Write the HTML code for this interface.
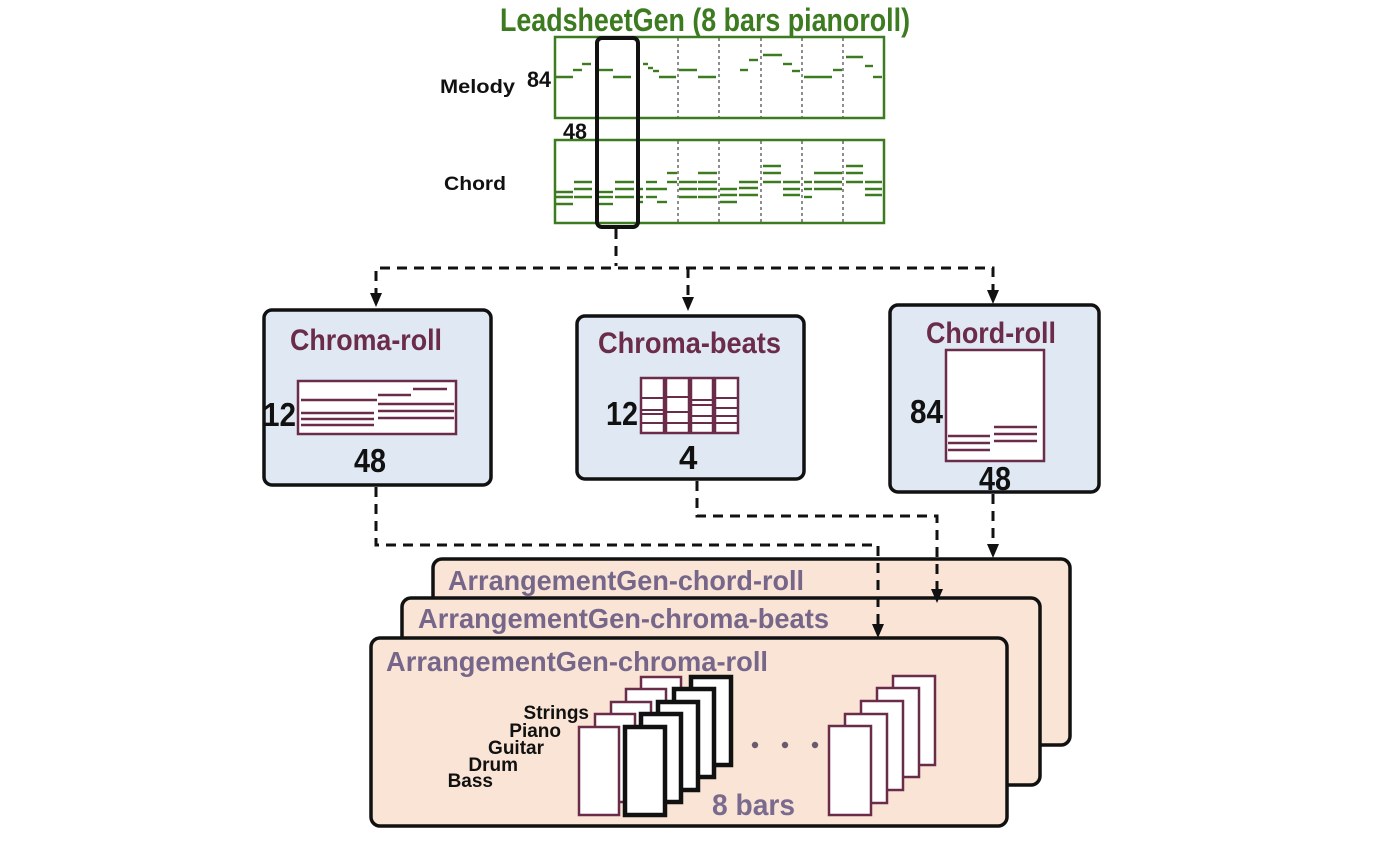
<!DOCTYPE html>
<html><head><meta charset="utf-8"><style>
html,body{margin:0;padding:0;background:#fff;}
svg{display:block;}
text{font-family:"Liberation Sans",sans-serif;font-weight:bold;}
</style></head><body>
<svg width="1400" height="843" viewBox="0 0 1400 843" xmlns="http://www.w3.org/2000/svg">
<!-- Title -->
<text x="500" y="31" font-size="32" fill="#3d7b20" textLength="410" lengthAdjust="spacingAndGlyphs">LeadsheetGen (8 bars pianoroll)</text>
<rect x="555" y="37" width="329" height="81" fill="#fff" stroke="#3d7b20" stroke-width="2.5"/>
<rect x="555" y="140" width="329" height="83" fill="#fff" stroke="#3d7b20" stroke-width="2.5"/>
<g stroke="#444" stroke-width="1.2" stroke-dasharray="3,3">
<line x1="678" y1="38" x2="678" y2="117"/><line x1="719" y1="38" x2="719" y2="117"/><line x1="761" y1="38" x2="761" y2="117"/><line x1="802" y1="38" x2="802" y2="117"/><line x1="843" y1="38" x2="843" y2="117"/>
<line x1="678" y1="141" x2="678" y2="222"/><line x1="719" y1="141" x2="719" y2="222"/><line x1="761" y1="141" x2="761" y2="222"/><line x1="802" y1="141" x2="802" y2="222"/><line x1="843" y1="141" x2="843" y2="222"/>
</g>
<g stroke="#3d7b20" stroke-width="2.4">
<line x1="556" y1="77" x2="573" y2="77"/><line x1="573" y1="70" x2="582" y2="70"/><line x1="582" y1="64" x2="591" y2="64"/>
<line x1="598" y1="70" x2="613" y2="70"/><line x1="613" y1="77" x2="631" y2="77"/>
<line x1="643" y1="64" x2="648" y2="64"/><line x1="648" y1="68" x2="653" y2="68"/><line x1="653" y1="71" x2="659" y2="71"/><line x1="659" y1="77" x2="676" y2="77"/>
<line x1="679" y1="70" x2="697" y2="70"/><line x1="698" y1="77" x2="716" y2="77"/>
<line x1="740" y1="70" x2="748" y2="70"/><line x1="749" y1="60" x2="758" y2="60"/><line x1="763" y1="55" x2="782" y2="55"/><line x1="783" y1="64" x2="792" y2="64"/><line x1="792" y1="71" x2="800" y2="71"/><line x1="804" y1="77" x2="832" y2="77"/><line x1="833" y1="70" x2="842" y2="70"/><line x1="846" y1="57" x2="863" y2="57"/><line x1="865" y1="66" x2="873" y2="66"/><line x1="873" y1="77" x2="882" y2="77"/>
<line x1="556" y1="192" x2="573" y2="192"/><line x1="556" y1="197" x2="573" y2="197"/><line x1="556" y1="204" x2="573" y2="204"/>
<line x1="574" y1="182" x2="592" y2="182"/><line x1="574" y1="189" x2="592" y2="189"/><line x1="574" y1="197" x2="592" y2="197"/>
<line x1="598" y1="192" x2="613" y2="192"/><line x1="598" y1="197" x2="613" y2="197"/><line x1="598" y1="204" x2="613" y2="204"/>
<line x1="615" y1="182" x2="634" y2="182"/><line x1="615" y1="189" x2="634" y2="189"/><line x1="615" y1="197" x2="634" y2="197"/>
<line x1="637" y1="189" x2="643" y2="189"/><line x1="637" y1="197" x2="643" y2="197"/><line x1="637" y1="202" x2="643" y2="202"/>
<line x1="646" y1="182" x2="657" y2="182"/><line x1="646" y1="189" x2="667" y2="189"/><line x1="646" y1="197" x2="657" y2="197"/><line x1="657" y1="202" x2="667" y2="202"/>
<line x1="667" y1="173" x2="677" y2="173"/><line x1="667" y1="182" x2="677" y2="182"/>
<line x1="679" y1="182" x2="697" y2="182"/><line x1="679" y1="189" x2="697" y2="189"/><line x1="679" y1="197" x2="697" y2="197"/>
<line x1="698" y1="173" x2="717" y2="173"/><line x1="698" y1="182" x2="717" y2="182"/><line x1="698" y1="189" x2="717" y2="189"/><line x1="698" y1="197" x2="717" y2="197"/>
<line x1="720" y1="189" x2="737" y2="189"/><line x1="720" y1="195" x2="737" y2="195"/><line x1="720" y1="202" x2="737" y2="202"/>
<line x1="739" y1="182" x2="758" y2="182"/><line x1="739" y1="188" x2="758" y2="188"/><line x1="739" y1="195" x2="758" y2="195"/>
<line x1="763" y1="166" x2="781" y2="166"/><line x1="763" y1="173" x2="781" y2="173"/><line x1="763" y1="182" x2="781" y2="182"/>
<line x1="783" y1="182" x2="800" y2="182"/><line x1="783" y1="189" x2="800" y2="189"/><line x1="783" y1="195" x2="800" y2="195"/>
<line x1="804" y1="182" x2="812" y2="182"/><line x1="804" y1="189" x2="812" y2="189"/><line x1="804" y1="197" x2="812" y2="197"/>
<line x1="814" y1="173" x2="842" y2="173"/><line x1="814" y1="182" x2="842" y2="182"/><line x1="814" y1="189" x2="842" y2="189"/>
<line x1="846" y1="166" x2="863" y2="166"/><line x1="846" y1="173" x2="863" y2="173"/><line x1="846" y1="182" x2="863" y2="182"/>
<line x1="865" y1="182" x2="882" y2="182"/><line x1="865" y1="189" x2="882" y2="189"/><line x1="865" y1="195" x2="882" y2="195"/>
</g>
<rect x="597" y="38" width="41" height="189" rx="5" fill="none" stroke="#111" stroke-width="4"/>
<text x="440" y="93" font-size="19" fill="#111" textLength="75" lengthAdjust="spacingAndGlyphs">Melody</text>
<text x="527" y="87" font-size="22" fill="#111" textLength="24" lengthAdjust="spacingAndGlyphs">84</text>
<text x="563" y="139" font-size="22" fill="#111" textLength="24" lengthAdjust="spacingAndGlyphs">48</text>
<text x="444" y="190" font-size="19" fill="#111" textLength="62" lengthAdjust="spacingAndGlyphs">Chord</text>

<g stroke="#111" stroke-width="3" fill="none" stroke-dasharray="10,7">
<path d="M616 229 V266"/>
<path d="M376 298 V268 H993 V296"/>
<path d="M688 268 V302"/>
</g>
<g fill="#111">
<polygon points="370,293 382,293 376,307"/>
<polygon points="682,297 694,297 688,311"/>
<polygon points="987,290 999,290 993,304"/>
</g>

<rect x="264" y="310" width="227" height="175" rx="8" fill="#e0e9f3" stroke="#111" stroke-width="3.5"/>
<text x="290" y="350" font-size="30" fill="#6b2c4a" textLength="152" lengthAdjust="spacingAndGlyphs">Chroma-roll</text>
<rect x="298" y="381" width="158" height="53" fill="#fff" stroke="#6b2c4a" stroke-width="2.5"/>
<g stroke="#6b2c4a" stroke-width="2.5">
<line x1="301" y1="400" x2="377" y2="400"/><line x1="301" y1="413" x2="374" y2="413"/><line x1="301" y1="419" x2="374" y2="419"/><line x1="301" y1="425" x2="374" y2="425"/>
<line x1="378" y1="395" x2="411" y2="395"/><line x1="413" y1="389" x2="447" y2="389"/><line x1="378" y1="404" x2="454" y2="404"/><line x1="378" y1="411" x2="454" y2="411"/><line x1="378" y1="418" x2="454" y2="418"/>
</g>
<text x="263" y="426" font-size="33" fill="#111" textLength="33" lengthAdjust="spacingAndGlyphs">12</text>
<text x="354" y="472" font-size="33" fill="#111" textLength="32" lengthAdjust="spacingAndGlyphs">48</text>

<rect x="577" y="316" width="227" height="163" rx="8" fill="#e0e9f3" stroke="#111" stroke-width="3.5"/>
<text x="598" y="353" font-size="30" fill="#6b2c4a" textLength="183" lengthAdjust="spacingAndGlyphs">Chroma-beats</text>
<g fill="#fff" stroke="#6b2c4a" stroke-width="2.5">
<rect x="641" y="378" width="23" height="55"/><rect x="666" y="378" width="23" height="55"/><rect x="691" y="378" width="22" height="55"/><rect x="715" y="378" width="23" height="55"/>
</g>
<g stroke="#6b2c4a" stroke-width="2">
<line x1="641" y1="398" x2="664" y2="398"/><line x1="641" y1="410" x2="664" y2="410"/><line x1="641" y1="414" x2="664" y2="414"/><line x1="641" y1="423" x2="664" y2="423"/>
<line x1="666" y1="397" x2="689" y2="397"/><line x1="666" y1="412" x2="689" y2="412"/><line x1="666" y1="423" x2="689" y2="423"/>
<line x1="691" y1="400" x2="713" y2="400"/><line x1="691" y1="405" x2="713" y2="405"/><line x1="691" y1="416" x2="713" y2="416"/><line x1="691" y1="423" x2="713" y2="423"/>
<line x1="715" y1="398" x2="738" y2="398"/><line x1="715" y1="408" x2="738" y2="408"/><line x1="715" y1="416" x2="738" y2="416"/><line x1="715" y1="423" x2="738" y2="423"/>
</g>
<text x="606" y="425" font-size="33" fill="#111" textLength="32" lengthAdjust="spacingAndGlyphs">12</text>
<text x="679" y="469" font-size="33" fill="#111">4</text>

<rect x="890" y="305" width="209" height="187" rx="8" fill="#e0e9f3" stroke="#111" stroke-width="3.5"/>
<text x="926" y="343" font-size="30" fill="#6b2c4a" textLength="130" lengthAdjust="spacingAndGlyphs">Chord-roll</text>
<rect x="946" y="350" width="98" height="111" fill="#fff" stroke="#6b2c4a" stroke-width="2.5"/>
<g stroke="#6b2c4a" stroke-width="2.5">
<line x1="948" y1="436" x2="990" y2="436"/><line x1="948" y1="443" x2="990" y2="443"/><line x1="948" y1="450" x2="990" y2="450"/>
<line x1="994" y1="427" x2="1037" y2="427"/><line x1="994" y1="434" x2="1037" y2="434"/><line x1="994" y1="441" x2="1037" y2="441"/>
</g>
<text x="910" y="423" font-size="33" fill="#111" textLength="33" lengthAdjust="spacingAndGlyphs">84</text>
<text x="979" y="490" font-size="33" fill="#111" textLength="32" lengthAdjust="spacingAndGlyphs">48</text>

<rect x="433" y="559" width="637" height="186" rx="9" fill="#f9e4d6" stroke="#111" stroke-width="3.5"/>
<text x="448" y="590" font-size="28" fill="#76678a" textLength="356" lengthAdjust="spacingAndGlyphs">ArrangementGen-chord-roll</text>
<rect x="402" y="598" width="638" height="187" rx="9" fill="#f9e4d6" stroke="#111" stroke-width="3.5"/>
<text x="418" y="628" font-size="28" fill="#76678a" textLength="411" lengthAdjust="spacingAndGlyphs">ArrangementGen-chroma-beats</text>
<rect x="371" y="638" width="636" height="188" rx="9" fill="#f9e4d6" stroke="#111" stroke-width="3.5"/>
<text x="386" y="671" font-size="28" fill="#76678a" textLength="382" lengthAdjust="spacingAndGlyphs">ArrangementGen-chroma-roll</text>

<g stroke="#111" stroke-width="3" fill="none" stroke-dasharray="10,7">
<path d="M376 487 V545 H878 V625"/>
<path d="M697 481 V516 H937 V590"/>
<path d="M993 494 V545"/>
</g>
<g fill="#111">
<polygon points="872,624 884,624 878,638"/>
<polygon points="931,589 943,589 937,603"/>
<polygon points="987,544 999,544 993,558"/>
</g>

<g fill="#fff" stroke="#6b2c4a" stroke-width="2.5">
<rect x="641" y="677" width="40" height="88"/>
<rect x="626" y="689" width="40" height="88"/>
<rect x="611" y="702" width="40" height="88"/>
<rect x="595" y="714" width="40" height="88"/>
<rect x="579" y="727" width="40" height="88"/>
</g>
<g fill="#fff" stroke="#111" stroke-width="4.5">
<rect x="691" y="677" width="40" height="88"/>
<rect x="674" y="689" width="40" height="88"/>
<rect x="658" y="702" width="40" height="88"/>
<rect x="641" y="714" width="40" height="88"/>
<rect x="625" y="727" width="40" height="88"/>
</g>
<g fill="#fff" stroke="#6b2c4a" stroke-width="2.5">
<rect x="893" y="676" width="42" height="89"/>
<rect x="877" y="688" width="42" height="89"/>
<rect x="861" y="701" width="42" height="89"/>
<rect x="845" y="714" width="42" height="89"/>
<rect x="829" y="726" width="42" height="89"/>
</g>
<g fill="#6b5a6e"><circle cx="755" cy="745" r="3.2"/><circle cx="785" cy="745" r="3.2"/><circle cx="815" cy="745" r="3.2"/></g>
<g font-size="19" fill="#111" text-anchor="end">
<text x="589" y="719">Strings</text>
<text x="561" y="737">Piano</text>
<text x="544" y="754">Guitar</text>
<text x="518" y="771">Drum</text>
<text x="493" y="787">Bass</text>
</g>
<text x="712" y="815" font-size="30" fill="#7a6a8e" textLength="83" lengthAdjust="spacingAndGlyphs">8 bars</text>
</svg>
</body></html>
